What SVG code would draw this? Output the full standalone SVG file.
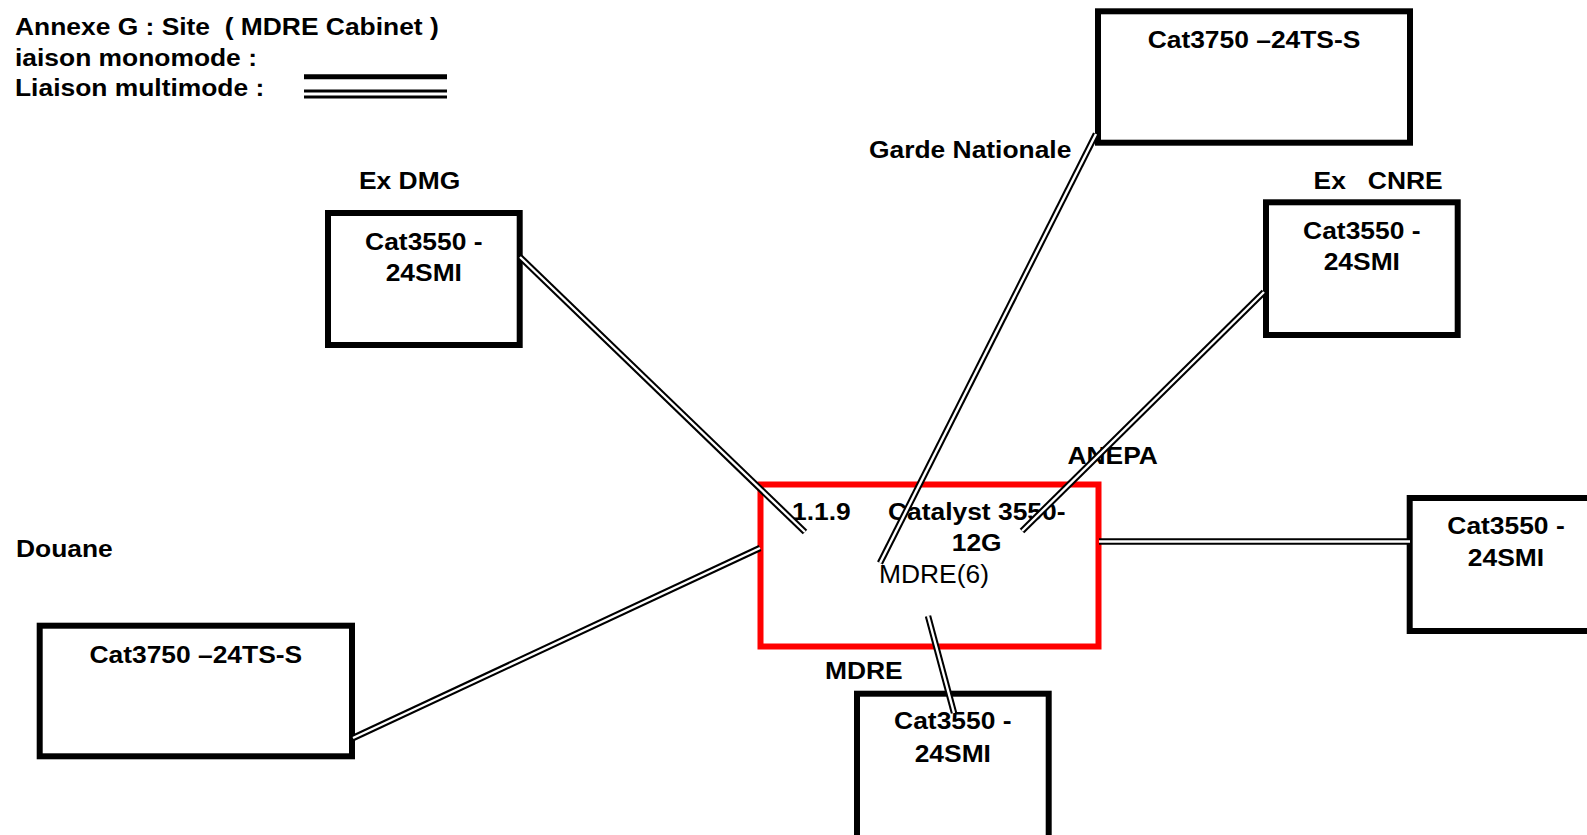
<svg xmlns="http://www.w3.org/2000/svg" width="1587" height="835" viewBox="0 0 1587 835">
<style>
.box{fill:#fff;stroke:#000;stroke-width:6}
.core{fill:#fff;stroke:#ff0000;stroke-width:6}
.b{font-family:"Liberation Sans",Arial,sans-serif;font-weight:bold;font-size:24px;fill:#000}
.r{font-family:"Liberation Sans",Arial,sans-serif;font-size:26.4px;fill:#000}
.m{text-anchor:middle}
.outer{stroke:#000;stroke-width:6.5;fill:none}
.inner{stroke:#fff;stroke-width:2.4;fill:none}
</style>
<defs>
<path id="c1" d="M520,257 L805,532"/>
<path id="c2" d="M1096,134 L880,563"/>
<path id="c3" d="M1264,292 L1022,531"/>
<path id="c4" d="M1099,541.5 L1410,541.5"/>
<path id="c5" d="M353,738 L760,548"/>
<path id="c6" d="M928,616 L954,713"/>
</defs>
<rect x="0" y="0" width="1587" height="835" fill="#fff"/>

<g id="legend">
<text class="b" xml:space="preserve" transform="translate(15 34.5) scale(1.1 1)">Annexe G : Site  ( MDRE Cabinet )</text>
<text class="b" transform="translate(15 65.5) scale(1.1 1)">iaison monomode :</text>
<text class="b" transform="translate(15 96) scale(1.1 1)">Liaison multimode :</text>
<line x1="304" y1="76.8" x2="447" y2="76.8" stroke="#000" stroke-width="5"/>
<line x1="304" y1="94" x2="447" y2="94" stroke="#000" stroke-width="9"/>
<line x1="304" y1="94" x2="447" y2="94" stroke="#fff" stroke-width="3"/>
</g>

<g id="node-core">
<rect class="core" x="760.5" y="484.5" width="338" height="162"/>
<text class="b" transform="translate(792 520) scale(1.1 1)">1.1.9</text>
<text class="b m" transform="translate(976.7 520) scale(1.1 1)">Catalyst 3550-</text>
<text class="b m" transform="translate(976.7 551) scale(1.1 1)">12G</text>
<text class="r" x="879" y="582.5">MDRE(6)</text>
</g>

<g id="node-garde">
<rect class="box" x="1098" y="11.3" width="312" height="131.4"/>
<text class="b m" transform="translate(1254 48.3) scale(1.1 1)">Cat3750 –24TS-S</text>
<text class="b" transform="translate(869 157.5) scale(1.1 1)">Garde Nationale</text>
</g>

<g id="node-exdmg">
<rect class="box" x="328" y="213" width="191.7" height="132"/>
<text class="b m" transform="translate(423.8 250) scale(1.1 1)">Cat3550 -</text>
<text class="b m" transform="translate(423.8 281) scale(1.1 1)">24SMI</text>
<text class="b" transform="translate(359 189) scale(1.1 1)">Ex DMG</text>
</g>

<g id="node-excnre">
<rect class="box" x="1266" y="202.3" width="191.7" height="132.7"/>
<text class="b m" transform="translate(1361.8 239) scale(1.1 1)">Cat3550 -</text>
<text class="b m" transform="translate(1361.8 270) scale(1.1 1)">24SMI</text>
<text class="b" xml:space="preserve" transform="translate(1313.6 188.5) scale(1.1 1)">Ex   CNRE</text>
</g>

<g id="node-anepa-label">
<text class="b" transform="translate(1067.5 463.5) scale(1.1 1)">ANEPA</text>
</g>

<g id="node-right">
<rect class="box" x="1409.7" y="498" width="192" height="133"/>
<text class="b m" transform="translate(1506 534) scale(1.1 1)">Cat3550 -</text>
<text class="b m" transform="translate(1506 565.5) scale(1.1 1)">24SMI</text>
</g>

<g id="node-douane">
<rect class="box" x="39.7" y="625.7" width="312.3" height="130.6"/>
<text class="b m" transform="translate(195.8 662.7) scale(1.1 1)">Cat3750 –24TS-S</text>
<text class="b" transform="translate(16 556.5) scale(1.1 1)">Douane</text>
</g>

<g id="node-mdre">
<rect class="box" x="857" y="693.7" width="191.7" height="160"/>
<text class="b m" transform="translate(952.8 729.3) scale(1.1 1)">Cat3550 -</text>
<text class="b m" transform="translate(952.8 761.7) scale(1.1 1)">24SMI</text>
<text class="b" transform="translate(825 678.5) scale(1.1 1)">MDRE</text>
</g>

<g id="connectors">
<use href="#c1" class="outer"/><use href="#c1" class="inner"/>
<use href="#c2" class="outer"/><use href="#c2" class="inner"/>
<use href="#c3" class="outer"/><use href="#c3" class="inner"/>
<use href="#c4" class="outer"/><use href="#c4" class="inner"/>
<use href="#c5" class="outer"/><use href="#c5" class="inner"/>
<use href="#c6" class="outer"/><use href="#c6" class="inner"/>
</g>
</svg>
